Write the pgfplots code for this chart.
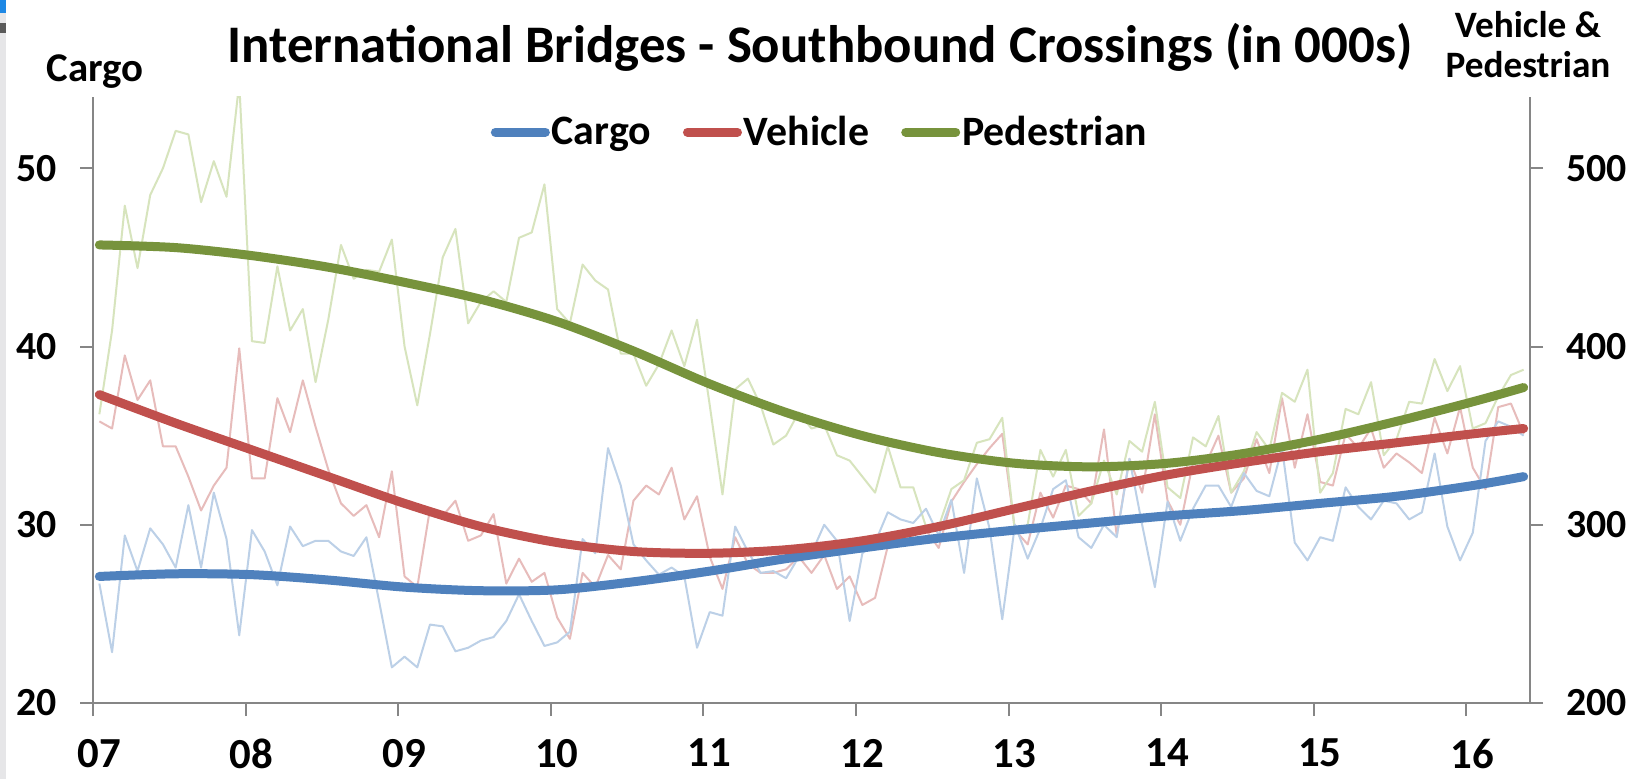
\documentclass[border=0pt]{standalone}
\usepackage{fontspec}
\setmainfont{Carlito}
\usepackage{pgfplots}
\usepackage{pgfplotstable}
\pgfplotsset{compat=1.18}

\definecolor{cBlue}{HTML}{4F81BD}
\definecolor{cRed}{HTML}{C0504D}
\definecolor{cGreen}{HTML}{77933C}
\definecolor{lBlue}{HTML}{BCD0E7}
\definecolor{lRed}{HTML}{E7BCBB}
\definecolor{lGreen}{HTML}{D7E4BD}
\definecolor{axgray}{HTML}{868686}
\definecolor{edgegray}{HTML}{E6E6E8}
\definecolor{edgeblue}{HTML}{1E88E5}
\definecolor{edgedark}{HTML}{5A5A5A}

\pgfplotstableread{
m cargo vehicle pedestrian
0.5 26.7 358 362
1.5 22.85 354 409
2.5 29.4 395 479
3.5 27.4 370 444
4.5 29.8 381 485
5.5 28.9 344 500
6.5 27.6 344 521
7.5 31.1 327 519
8.5 27.6 308 481
9.5 31.8 322 504
10.5 29.2 332 484
11.5 23.8 399 548
12.5 29.7 326 403
13.5 28.5 326 402
14.5 26.6 371 445
15.5 29.9 352 409
16.5 28.8 381 421
17.5 29.1 355 380
18.5 29.1 331 415
19.5 28.5 312 457
20.5 28.25 305 438
21.5 29.3 311 443
22.5 25.7 293 442
23.5 22.0 330 460
24.5 22.6 271 400
25.5 22.0 265 367
26.5 24.4 309 407
27.5 24.3 305 450
28.5 22.9 313.5 466
29.5 23.1 291 413
30.5 23.5 294 425
31.5 23.7 306 431
32.5 24.6 267 425
33.5 26.1 281 461
34.5 24.6 268 464
35.5 23.2 273 491
36.5 23.4 248 421
37.5 24.0 236 413
38.5 29.2 273 446
39.5 28.4 265 437
40.5 34.3 283 432
41.5 32.2 275 396
42.5 28.9 313.5 396
43.5 28.0 322 378
44.5 27.2 317 390
45.5 27.6 332 409
46.5 27.1 303 389
47.5 23.1 316 415
48.5 25.1 282 367
49.5 24.9 264 317
50.5 29.9 293 376
51.5 28.5 278 382
52.5 27.3 273 367
53.5 27.4 273 345
54.5 27.0 275 350
55.5 28.2 282 363
56.5 28.4 273 354
57.5 30.0 283 356
58.5 29.1 264 339
59.5 24.6 271 336
60.5 28.4 255 327
61.5 29.0 259 318
62.5 30.7 288 344
63.5 30.3 292 321
64.5 30.1 294 321
65.5 30.9 297 299
66.5 29.4 287 299
67.5 31.4 313 320
68.5 27.3 324 325
69.5 32.6 334 346
70.5 29.8 343 348
71.5 24.7 351 360
72.5 30.0 297 296
73.5 28.1 289 300
74.5 29.8 318 342
75.5 32.0 304 327
76.5 32.5 322 342
77.5 29.3 320 305
78.5 28.7 312 312
79.5 30.0 353.5 336
80.5 29.3 294 317
81.5 33.7 337 347
82.5 30.0 318 341
83.5 26.5 362 369
84.5 31.3 313.5 321
85.5 29.1 300 315
86.5 30.9 335 349
87.5 32.2 334 344
88.5 32.2 350 361
89.5 31.0 318 318
90.5 32.9 326 330
91.5 31.9 348 352
92.5 31.6 329 342
93.5 34.3 371 374
94.5 29.0 332 369
95.5 28.0 362 387
96.5 29.3 324 318
97.5 29.1 322 329
98.5 32.1 351 365
99.5 31.0 343 362
100.5 30.3 354 380
101.5 31.35 332 339
102.5 31.2 340 348
103.5 30.3 335 369
104.5 30.7 329 368
105.5 34.0 360 393
106.5 29.9 340 375
107.5 28.0 366 389
108.5 29.55 332 354
109.5 34.7 320 357
110.5 35.8 366 372
111.5 35.5 368 384
112.5 35.0 351 387
}\monthly

\pgfplotstableread{
m cargo vehicle pedestrian
0.5 27.1 373 457
6.5 27.25 357 455.5
12.5 27.2 342 451
18.5 26.9 327 444.5
24.5 26.5 312 436
30.5 26.3 299 426.5
36.5 26.35 290 414
42.5 26.8 285 397.5
48.5 27.4 284 379
54.5 28.1 286 363
60.5 28.7 291 350
66.5 29.25 299 340.5
72.5 29.7 309 334.5
78.5 30.1 319 332.5
84.5 30.5 328 334.5
90.5 30.8 335 340
96.5 31.2 341 348
102.5 31.6 346 358
108.5 32.2 351 369
112.5 32.7 354 377
}\trend

\newcommand\tlfont{\bfseries\fontsize{20}{24}\selectfont}

\pgfplotsset{
  base/.style={
    scale only axis, width=718.5bp, height=303bp,
    at={(46.5bp,38bp)}, anchor=south west,
    xmin=0, xmax=113,
    axis line style={axgray, line width=1bp},
    tick style={axgray, line width=1bp},
    tick align=outside,
    major tick length=6.5bp,
    minor tick num=0,
    tick label style={font=\tlfont, text=black},
    /pgf/number format/assume math mode=true,
  },
  thin/.style={line width=1bp, line join=round},
  thick/.style={line width=4.5bp, line cap=round, line join=round, smooth},
}

\begin{document}
\begin{tikzpicture}
\useasboundingbox (0,0) rectangle (820.5bp,389.5bp);
\fill[white] (0,0) rectangle (820.5bp,389.5bp);
\fill[edgegray] (0,0) rectangle (3bp,389.5bp);
\fill[edgeblue] (0,383bp) rectangle (3bp,389.5bp);
\fill[edgedark] (0,373bp) rectangle (3bp,378bp);

% thin vehicle / pedestrian (right scale, hidden)
\begin{axis}[base, ymin=200, ymax=540, hide axis]
  \addplot[thin, lRed] table[x=m, y=vehicle]{\monthly};
  \addplot[thin, lGreen] table[x=m, y=pedestrian]{\monthly};
\end{axis}

% cargo (left scale)
\begin{axis}[base, ymin=20, ymax=54,
  axis x line*=bottom, axis y line*=left,
  ytick={20,30,40,50},
  xtick={0,12,...,108},
  xticklabels={07,08,09,10,11,12,13,14,15,16},
  xticklabel style={xshift=3bp, yshift=-8bp, font=\bfseries\fontsize{21.5}{25}\selectfont},
  yticklabel style={xshift=-8bp},
  ]
  \addplot[thin, lBlue] table[x=m, y=cargo]{\monthly};
  \addplot[thick, cBlue] table[x=m, y=cargo]{\trend};
\end{axis}

% vehicle / pedestrian trends (right scale)
\begin{axis}[base, ymin=200, ymax=540,
  axis x line=none, axis y line*=right,
  ytick={200,300,400,500},
  yticklabel style={xshift=8bp},
  legend columns=3,
  legend image code/.code={\draw[#1, line cap=round] (2.25bp,0bp) -- (27.25bp,0bp);},
  legend style={draw=none, fill=none, at={(0.506,0.942)}, anchor=center,
    font=\bfseries\fontsize{21}{25}\selectfont,
    inner xsep=0pt, inner ysep=0pt,
    /tikz/every even column/.append style={column sep=15bp},
    nodes={inner xsep=1bp, inner ysep=1bp}},
  ]
  \addlegendimage{line width=4.5bp, cBlue}
  \addlegendentry{Cargo}
  \addplot[thick, cRed] table[x=m, y=vehicle]{\trend};
  \addlegendentry{Vehicle}
  \addplot[thick, cGreen] table[x=m, y=pedestrian]{\trend};
  \addlegendentry{Pedestrian}
\end{axis}

\node[anchor=base, font=\bfseries\fontsize{26.5}{30}\selectfont] at (410bp,358bp)
  {International Bridges - Southbound Crossings (in 000s)};
\node[anchor=base, font=\bfseries\fontsize{20.5}{24}\selectfont] at (47.5bp,348.5bp) {Cargo};
\node[anchor=base, font=\bfseries\fontsize{18.7}{22}\selectfont] at (764bp,370.5bp) {Vehicle \&};
\node[anchor=base, font=\bfseries\fontsize{18.7}{22}\selectfont] at (764bp,350.5bp) {Pedestrian};
\end{tikzpicture}
\end{document}
